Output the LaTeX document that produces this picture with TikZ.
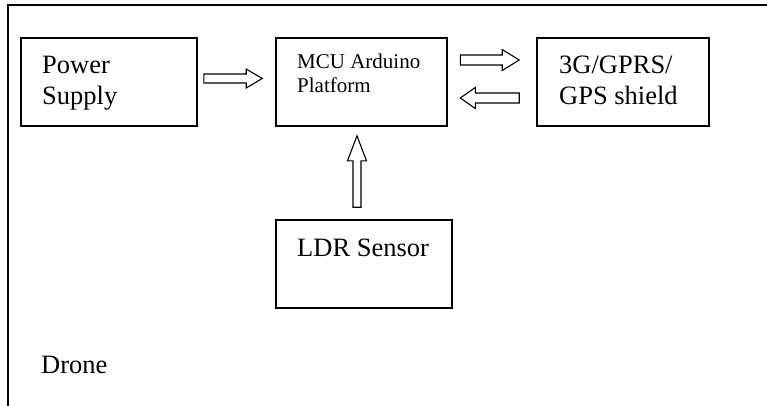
\documentclass[tikz,border=0pt]{standalone}
\usepackage{fontspec}
\setmainfont{Liberation Serif}
\usetikzlibrary{calc}
\tikzset{
  boxnode/.style={draw, line width=1.6pt, inner sep=0pt, minimum height=88pt},
  bigtext/.style={inner sep=0pt, anchor=base west, align=left, font=\fontsize{26.5}{31}\selectfont},
  smalltext/.style={inner sep=0pt, anchor=base west, align=left, font=\fontsize{21}{24}\selectfont},
  hollow/.style={draw, line width=1.1pt, line join=miter},
  frameline/.style={draw, line width=1.8pt}
}
\newcommand{\blockarrow}[5]{%
  \coordinate (bh) at ($(#2)!#5!(#1)$);
  \draw[hollow] ($(#1)!#3!90:(#2)$) -- ($(bh)!#3!90:(#2)$) -- ($(bh)!#4!90:(#2)$) -- (#2)
    -- ($(bh)!#4!-90:(#2)$) -- ($(bh)!#3!-90:(#2)$) -- ($(#1)!#3!-90:(#2)$) -- cycle;}
\begin{document}
\begin{tikzpicture}[x=1pt, y=-1pt]
\useasboundingbox (0,0) rectangle (767,405);
\draw[frameline] (768,5) -- (8,5) -- (8,406);

\node[boxnode, minimum width=176pt] (ps) at (109,82) {};
\node[boxnode, minimum width=171pt] (mcu) at (361.5,82) {};
\node[boxnode, minimum width=172pt] (gps) at (623,82) {};
\node[boxnode, minimum width=176pt] (ldr) at (364,264) {};

\node[bigtext] (pst) at (42,104) {Power\\Supply};
\node[smalltext] (mcut) at (297,92) {MCU Arduino\\Platform};
\node[bigtext] (gpst) at (559,104) {3G/GPRS/\\GPS shield};
\node[bigtext] (ldrt) at (297,256) {LDR Sensor};
\node[bigtext] (drone) at (41,373) {Drone};

\coordinate (a1s) at ($(ps.east)+(6,-3.5)$);
\coordinate (a1e) at ($(mcu.west)+(-13,-3.5)$);
\coordinate (a2s) at ($(mcu.east)+(12.5,-22)$);
\coordinate (a2e) at ($(gps.west)+(-17,-22)$);
\coordinate (a3s) at ($(gps.west)+(-17,16)$);
\coordinate (a3e) at ($(mcu.east)+(12.5,16)$);
\coordinate (a4s) at ($(ldr.north)+(-7,-12)$);
\coordinate (a4e) at ($(mcu.south)+(-4.5,9)$);

\blockarrow{a1s}{a1e}{4.5pt}{9.5pt}{16pt}
\blockarrow{a2s}{a2e}{5pt}{10.5pt}{17pt}
\blockarrow{a3s}{a3e}{5pt}{10.5pt}{15pt}
\blockarrow{a4s}{a4e}{4pt}{9.5pt}{25pt}
\end{tikzpicture}
\end{document}
